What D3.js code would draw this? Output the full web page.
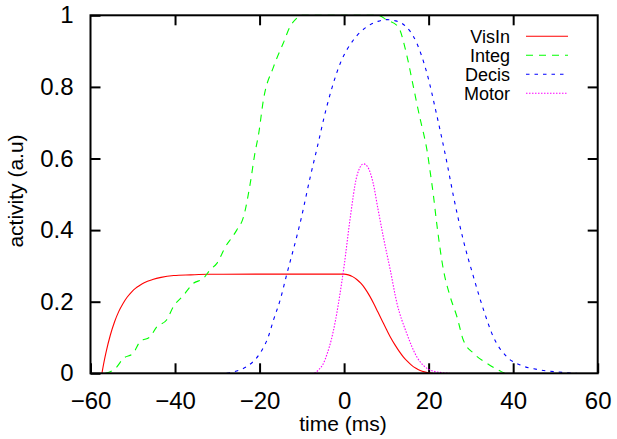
<!DOCTYPE html>
<html>
<head>
<meta charset="utf-8">
<script src="https://cdn.jsdelivr.net/npm/d3@7"></script>
<style>
  html, body { margin: 0; padding: 0; background: #fff; }
  svg { display: block; }
  text { font-family: "Liberation Sans", Arial, Helvetica, sans-serif; fill: #000; }
</style>
</head>
<body>
<svg id="chart" width="617" height="439"></svg>
<script>
// ---- data ----
const seriesNames = ["VisIn", "Integ", "Decis", "Motor"];
const xTicks = [-60, -40, -20, 0, 20, 40, 60];
const yTicks = [0, 0.2, 0.4, 0.6, 0.8, 1];
const yTickLabels = ["0", "0.2", "0.4", "0.6", "0.8", "1"];

const visInX = [-57.3, -56.8, -56.3, -55.3, -54.3, -53.3, -52.3, -51.3, -50.3, -49.3, -48.3, -47.3, -45.3, -43.3, -40.3, -36.3, -32.3, -20, -10, 0, 1, 2, 3, 4, 5, 6, 7, 8, 9, 10, 11, 12, 13, 14, 15, 16, 17, 18, 19, 20, 21];
const visInY = [0, 0.032, 0.06, 0.107, 0.144, 0.173, 0.195, 0.213, 0.227, 0.238, 0.246, 0.253, 0.262, 0.268, 0.273, 0.275, 0.2765, 0.277, 0.277, 0.277, 0.275, 0.27, 0.262, 0.251, 0.236, 0.217, 0.195, 0.171, 0.147, 0.123, 0.1, 0.08, 0.062, 0.046, 0.033, 0.022, 0.014, 0.008, 0.004, 0.0015, 0];

const integX = [-56.5, -54, -52.2, -49.9, -48.3, -45.9, -44.3, -42, -40.4, -38, -35.7, -33.3, -31.7, -30.1, -28, -26.5, -25.4, -23.8, -22.2, -21.1, -20.2, -19.1, -16.7, -14.4, -12.8, -11.2, -10.5, 0, 8, 10.1, 12.8, 14.8, 16.4, 18, 18.8, 19.6, 20.4, 21.1, 21.9, 23.5, 25.1, 26.7, 28.2, 30.6, 33.8, 37.3, 38];
const integY = [0, 0.015, 0.042, 0.056, 0.088, 0.102, 0.13, 0.149, 0.186, 0.218, 0.251, 0.265, 0.289, 0.307, 0.355, 0.38, 0.4, 0.437, 0.531, 0.615, 0.67, 0.763, 0.856, 0.922, 0.968, 0.992, 1, 1, 1, 0.987, 0.968, 0.89, 0.8, 0.71, 0.67, 0.624, 0.56, 0.5, 0.42, 0.289, 0.214, 0.158, 0.093, 0.056, 0.028, 0.004, 0];

const decisX = [-27.8, -25, -23, -19.9, -18, -16.7, -15, -13.6, -11.2, -10.4, -8, -6.5, -4.1, -0.9, 2.2, 5.4, 8, 10.1, 12, 14, 17.2, 19.6, 22, 24.3, 25.9, 28.2, 30.6, 33, 35.3, 38.5, 41.7, 45.6, 50.3, 55];
const decisY = [0, 0.008, 0.019, 0.056, 0.1, 0.149, 0.21, 0.275, 0.382, 0.42, 0.549, 0.624, 0.745, 0.866, 0.931, 0.968, 0.983, 0.988, 0.985, 0.975, 0.922, 0.838, 0.717, 0.59, 0.493, 0.372, 0.27, 0.177, 0.102, 0.046, 0.023, 0.011, 0.004, 0];

const motorX = [-7, -6, -5, -4, -3, -2, -1, 0, 1.4, 3, 4.6, 5.5, 6.9, 8, 9.3, 10.9, 12.5, 14.8, 17.2, 20.4, 23, 25];
const motorY = [0, 0.01, 0.025, 0.055, 0.095, 0.15, 0.22, 0.3, 0.43, 0.55, 0.585, 0.578, 0.53, 0.46, 0.38, 0.29, 0.196, 0.112, 0.046, 0.009, 0.002, 0];

const seriesColors = ["#ff0000", "#00ff00", "#0000ff", "#ff00ff"];
const seriesDash = [null, "7,6", "3.5,5", "1.5,1.5"];

// ---- layout ----
const svg = d3.select("#chart");
const mLeft = 90.5, mRight = 597.7, mTop = 15.3, mBottom = 373.3;

const x = d3.scaleLinear().domain([-60, 60]).range([mLeft, mRight]);
const y = d3.scaleLinear().domain([0, 1]).range([mBottom, mTop]);

const series = [
  { name: seriesNames[0], xs: visInX, ys: visInY },
  { name: seriesNames[1], xs: integX, ys: integY },
  { name: seriesNames[2], xs: decisX, ys: decisY },
  { name: seriesNames[3], xs: motorX, ys: motorY }
];

// axes (ticks inward)
const fmtY = (d) => yTickLabels[yTicks.indexOf(d)];
const gL = svg.append("g").attr("transform", `translate(${mLeft},0)`)
  .call(d3.axisLeft(y).tickValues(yTicks).tickFormat(fmtY).tickSizeInner(-10).tickSizeOuter(0).tickPadding(17));
const gB = svg.append("g").attr("transform", `translate(0,${mBottom})`)
  .call(d3.axisBottom(x).tickValues(xTicks).tickFormat(d3.format("d")).tickSizeInner(-10).tickSizeOuter(0).tickPadding(18.7));
const gR = svg.append("g").attr("transform", `translate(${mRight},0)`)
  .call(d3.axisRight(y).tickValues(yTicks.slice(1, -1)).tickFormat("").tickSizeInner(-10).tickSizeOuter(0));
const gT = svg.append("g").attr("transform", `translate(0,${mTop})`)
  .call(d3.axisTop(x).tickValues(xTicks.slice(1, -1)).tickFormat("").tickSizeInner(-10).tickSizeOuter(0));

[gL, gB, gR, gT].forEach(g => {
  g.select(".domain").remove();
  g.selectAll(".tick line").attr("stroke", "#000").attr("stroke-width", 2);
  g.selectAll(".tick text").attr("font-size", 24).attr("font-family", "Liberation Sans, Arial, sans-serif").attr("fill", "#000");
});

// curves
const line = d3.line().x(d => x(d[0])).y(d => y(d[1])).curve(d3.curveMonotoneX);
const plot = svg.append("g");
series.forEach((s, i) => {
  const pts = s.xs.map((xv, j) => [xv, s.ys[j]]);
  plot.append("path")
    .datum(pts)
    .attr("d", line)
    .attr("fill", "none")
    .attr("stroke", seriesColors[i])
    .attr("stroke-width", 1.1)
    .attr("stroke-dasharray", seriesDash[i]);
});

// frame
svg.append("rect")
  .attr("x", mLeft).attr("y", mTop)
  .attr("width", mRight - mLeft).attr("height", mBottom - mTop)
  .attr("fill", "none").attr("stroke", "#000").attr("stroke-width", 2);

// axis titles
svg.append("text").attr("x", 343).attr("y", 431).attr("text-anchor", "middle")
  .attr("font-size", 21).text("time (ms)");
svg.append("text").attr("transform", "translate(23,191) rotate(-90)").attr("text-anchor", "middle")
  .attr("font-size", 21).text("activity (a.u)");

// legend
const leg = svg.append("g");
series.forEach((s, i) => {
  const base = 43.3 + i * 19;
  leg.append("text").attr("x", 510).attr("y", base).attr("text-anchor", "end")
    .attr("font-size", 18).text(s.name);
  leg.append("line").attr("x1", 526).attr("x2", 568).attr("y1", base - 7).attr("y2", base - 7)
    .attr("stroke", seriesColors[i]).attr("stroke-width", 1.1)
    .attr("stroke-dasharray", seriesDash[i]);
});
</script>
</body>
</html>
